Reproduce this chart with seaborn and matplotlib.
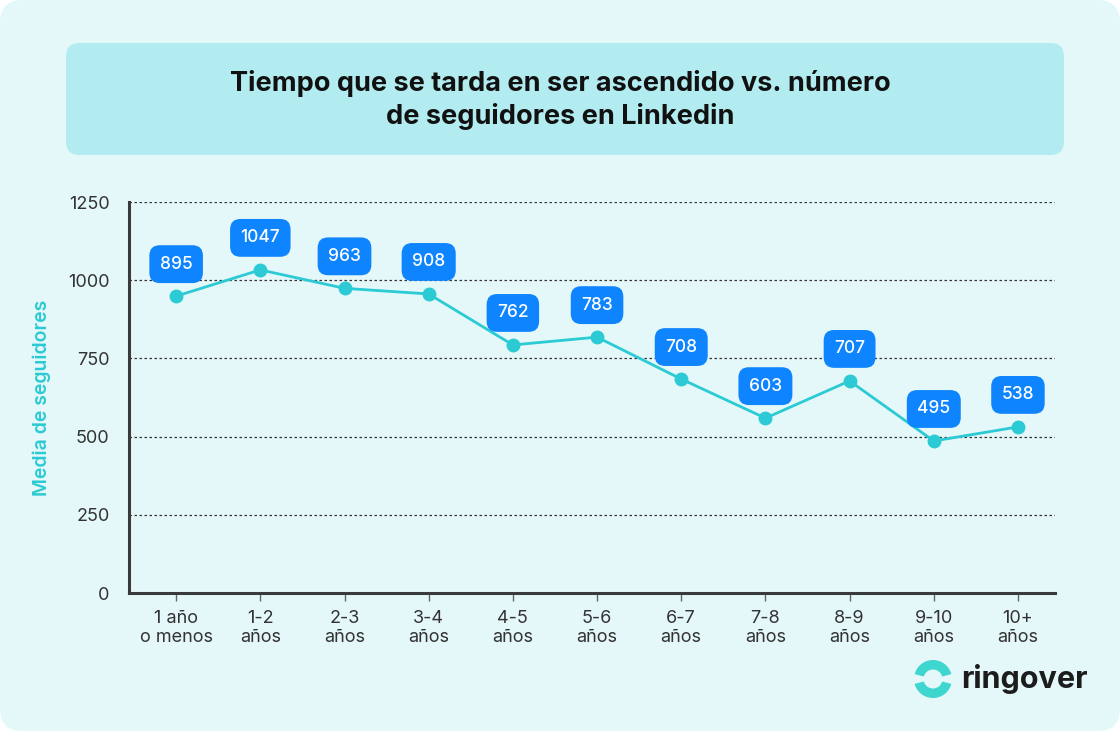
import seaborn as sns
import matplotlib.pyplot as plt
from matplotlib.patches import FancyBboxPatch, Wedge
import pandas as pd

# data
categories = ['1 año\no menos', '1-2\naños', '2-3\naños', '3-4\naños', '4-5\naños', '5-6\naños',
              '6-7\naños', '7-8\naños', '8-9\naños', '9-10\naños', '10+\naños']
points = [949, 1033, 974, 956, 793, 818, 684, 559, 678, 486, 531]
labels = [895, 1047, 963, 908, 762, 783, 708, 603, 707, 495, 538]
yticks = [0, 250, 500, 750, 1000, 1250]

bg = '#E4F8FA'
teal = '#2BCAD4'
blue = '#0E84FF'
dark = '#333333'

sns.set_theme(style='white')
plt.rcParams['font.family'] = ['Inter', 'DejaVu Sans']

fig = plt.figure(figsize=(11.2, 7.31), dpi=100)
fig.patch.set_facecolor('white')

# card background + title box
card = FancyBboxPatch((0.0, 0.0), 1.0, 1.0, boxstyle='round,pad=0,rounding_size=0.02',
                      transform=fig.transFigure, facecolor=bg, edgecolor='none',
                      mutation_aspect=1120 / 731, zorder=-10)
fig.patches.append(card)
tbox = FancyBboxPatch((66 / 1120, 1 - 155 / 731), 998 / 1120, 112 / 731,
                      boxstyle='round,pad=0,rounding_size=0.012',
                      transform=fig.transFigure, facecolor='#B3ECF0', edgecolor='none',
                      mutation_aspect=1120 / 731, zorder=-9)
fig.patches.append(tbox)
fig.text(0.5, 1 - 100 / 731, 'Tiempo que se tarda en ser ascendido vs. número\nde seguidores en Linkedin',
         ha='center', va='center', fontsize=19.5, fontweight='bold', color='#111111', linespacing=1.3)

ax = fig.add_axes([129 / 1120, 1 - 593 / 731, (1055 - 129) / 1120, (593 - 202) / 731])
ax.set_facecolor('none')

df = pd.DataFrame({'cat': range(len(categories)), 'val': points})
sns.lineplot(data=df, x='cat', y='val', ax=ax, color=teal, linewidth=2,
             marker='o', markersize=10, markeredgewidth=0)

for i, (p, lab) in enumerate(zip(points, labels)):
    ax.annotate(str(lab), (i, p), xytext=(0, 32), textcoords='offset pixels',
                ha='center', va='center', fontsize=12.5, color='white', fontweight='medium',
                bbox=dict(boxstyle='round,pad=0.6,rounding_size=0.6', facecolor=blue, edgecolor='none'))

ax.set_xlim(-0.56, 10.44)
ax.set_ylim(0, 1250)
ax.set_xticks(range(len(categories)))
ax.set_xticklabels(categories, fontsize=13, color=dark, linespacing=1.2)
ax.set_yticks(yticks)
ax.set_yticklabels([str(t) for t in yticks], fontsize=13, color=dark)
ax.tick_params(axis='x', length=6, width=1, color='#666666', pad=6, bottom=True)
ax.tick_params(axis='y', length=0, pad=14)
ax.grid(axis='y', linestyle=(0, (2, 2)), color='#333333', linewidth=0.9)
ax.set_axisbelow(True)
for s in ['top', 'right']:
    ax.spines[s].set_visible(False)
for s in ['left', 'bottom']:
    ax.spines[s].set_color('#3a3a3a')
    ax.spines[s].set_linewidth(2.2)
ax.set_xlabel('')
ax.set_ylabel('Media de seguidores', color=teal, fontsize=14, fontweight='semibold', labelpad=12)

# logo
lax = fig.add_axes([0, 0, 1, 1], facecolor='none')
lax.set_xlim(0, 1120)
lax.set_ylim(731, 0)
lax.axis('off')
lax.add_patch(Wedge((933, 679), 19, 195, 345, width=9.5, facecolor='#3FD6CF', edgecolor='none'))
lax.add_patch(Wedge((933, 679), 19, 15, 165, width=9.5, facecolor='#3FD6CF', edgecolor='none'))
lax.text(961, 679, 'ringover', ha='left', va='center', fontsize=22, fontweight='bold', color='#1c1c1c')

fig.savefig('out.png', dpi=100, facecolor='white')
